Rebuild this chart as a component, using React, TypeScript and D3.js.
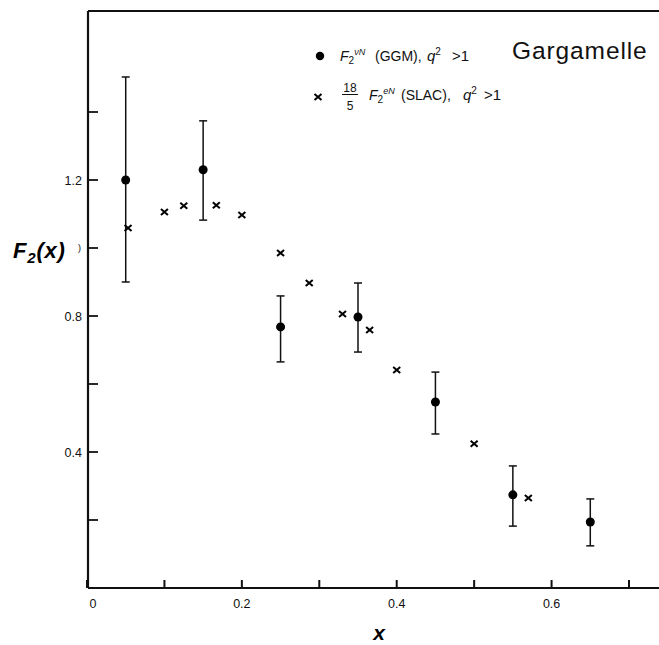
import React from "react";
import * as d3 from "d3";

// GGM neutrino data (filled circles with error bars)
const ggmX = [0.05, 0.15, 0.25, 0.35, 0.45, 0.55, 0.65];
const ggmY = [1.2, 1.23, 0.768, 0.797, 0.547, 0.274, 0.194];
const ggmLo = [0.9, 1.082, 0.665, 0.694, 0.453, 0.182, 0.124];
const ggmHi = [1.503, 1.374, 0.859, 0.897, 0.635, 0.359, 0.262];

// SLAC electron data scaled by 18/5 (crosses)
const slacX = [0.053, 0.1, 0.125, 0.167, 0.2, 0.25, 0.287, 0.33, 0.365, 0.4, 0.5, 0.57];
const slacY = [1.059, 1.106, 1.124, 1.126, 1.097, 0.985, 0.897, 0.806, 0.759, 0.641, 0.424, 0.265];

const xTicks = [0, 0.1, 0.2, 0.3, 0.4, 0.5, 0.6, 0.7];
const xLabels = ["0", "0.2", "0.4", "0.6"];
const yTicks = [0.2, 0.4, 0.6, 0.8, 1.0, 1.2, 1.4];
const yLabels = ["0.4", "0.8", "1.2"];

const W = 659;
const H = 645;
const font = "'Liberation Sans', Arial, sans-serif";

const App = () => {
  const x = d3.scaleLinear().domain([0, 0.7]).range([87, 629]);
  const y = d3.scaleLinear().domain([0, 1.2]).range([588, 180]);
  const top = 11;
  const left = x(0) + 1;
  const bottom = y(0);

  const cross = (cx: number, cy: number, i: number) => (
    <path
      key={"c" + i}
      d={`M${cx - 3.5},${cy - 3} L${cx + 3.5},${cy + 3} M${cx - 3.5},${cy + 3} L${cx + 3.5},${cy - 3}`}
      stroke="#000"
      strokeWidth={2}
    />
  );

  // legend label: F2^sup (name), q^2 >1 with spaced pieces like the scan
  const legendLabel = (bx: number, by: number, sup: string, name: string, xs: number[]) => (
    <text y={by} fontSize={14} fill="#111">
      <tspan x={bx} fontStyle="italic">F</tspan>
      <tspan fontSize={10} dy={3}>2</tspan>
      <tspan fontSize={9} fontStyle="italic" dy={-9}>{sup}</tspan>
      <tspan x={xs[0]} dy={6}>{name},</tspan>
      <tspan x={xs[1]} fontStyle="italic" fontSize={15}>q</tspan>
      <tspan fontSize={10} dy={-6}>2</tspan>
      <tspan x={xs[2]} dy={6} fontSize={15}>&gt;1</tspan>
    </text>
  );

  return (
    <svg width={W} height={H} style={{ position: "absolute", left: 0, top: 0, background: "#fff" }} fontFamily={font}>
      {/* frame */}
      <line x1={left} x2={W} y1={top} y2={top} stroke="#111" strokeWidth={2} />
      <line x1={left} x2={left} y1={top} y2={bottom} stroke="#111" strokeWidth={2.2} />
      <line x1={left} x2={W} y1={bottom} y2={bottom} stroke="#111" strokeWidth={2} />

      {/* x ticks */}
      {xTicks.map((t) => (
        <line key={"xt" + t} x1={x(t)} x2={x(t)} y1={bottom} y2={bottom - 8} stroke="#111" strokeWidth={2} />
      ))}
      {xLabels.map((l) => (
        <text key={"xl" + l} x={+l === 0 ? x(0) + 6 : x(+l)} y={608} fontSize={12.5} textAnchor="middle" fill="#111">
          {l}
        </text>
      ))}

      {/* y ticks */}
      {yTicks.map((t) => (
        <line key={"yt" + t} x1={left} x2={left + 10} y1={y(t)} y2={y(t)} stroke="#111" strokeWidth={1.8} />
      ))}
      {yLabels.map((l) => (
        <text key={"yl" + l} x={82} y={y(+l) + 4.5} fontSize={12.5} textAnchor="end" fill="#111">
          {l}
        </text>
      ))}
      <text x={78} y={y(1.0) + 3} fontSize={9} fill="#111">)</text>

      {/* axis titles */}
      <text x={13} y={258} fontSize={22} fontWeight="bold" fontStyle="italic" letterSpacing={0.8} fill="#000">
        F<tspan fontSize={15} dy={5}>2</tspan>
        <tspan dy={-5}>(x)</tspan>
      </text>
      <text x={379} y={640} fontSize={21} fontWeight="bold" fontStyle="italic" textAnchor="middle" fill="#000">
        x
      </text>

      {/* error bars */}
      {ggmX.map((v, i) => (
        <g key={"e" + i} stroke="#111" strokeWidth={1.5}>
          <line x1={x(v)} x2={x(v)} y1={y(ggmLo[i])} y2={y(ggmHi[i])} />
          <line x1={x(v) - 4} x2={x(v) + 4} y1={y(ggmLo[i])} y2={y(ggmLo[i])} />
          <line x1={x(v) - 4} x2={x(v) + 4} y1={y(ggmHi[i])} y2={y(ggmHi[i])} />
        </g>
      ))}
      {ggmX.map((v, i) => (
        <circle key={"p" + i} cx={x(v)} cy={y(ggmY[i])} r={4.5} fill="#000" />
      ))}
      {slacX.map((v, i) => cross(x(v), y(slacY[i]), i))}

      {/* legend */}
      <circle cx={320} cy={56} r={4.2} fill="#000" />
      {legendLabel(340, 61, "νN", "(GGM)", [375, 427, 452])}
      {cross(318, 97, 99)}
      <text x={350} y={92} fontSize={12} textAnchor="middle" fill="#111">18</text>
      <line x1={342} x2={358} y1={94.5} y2={94.5} stroke="#111" strokeWidth={1} />
      <text x={350} y={110} fontSize={12} textAnchor="middle" fill="#111">5</text>
      {legendLabel(369, 100, "eN", "(SLAC)", [401, 463, 484])}
      <text x={512} y={59} fontSize={24.5} letterSpacing={0.9} fill="#111">Gargamelle</text>
    </svg>
  );
};

export default App;
